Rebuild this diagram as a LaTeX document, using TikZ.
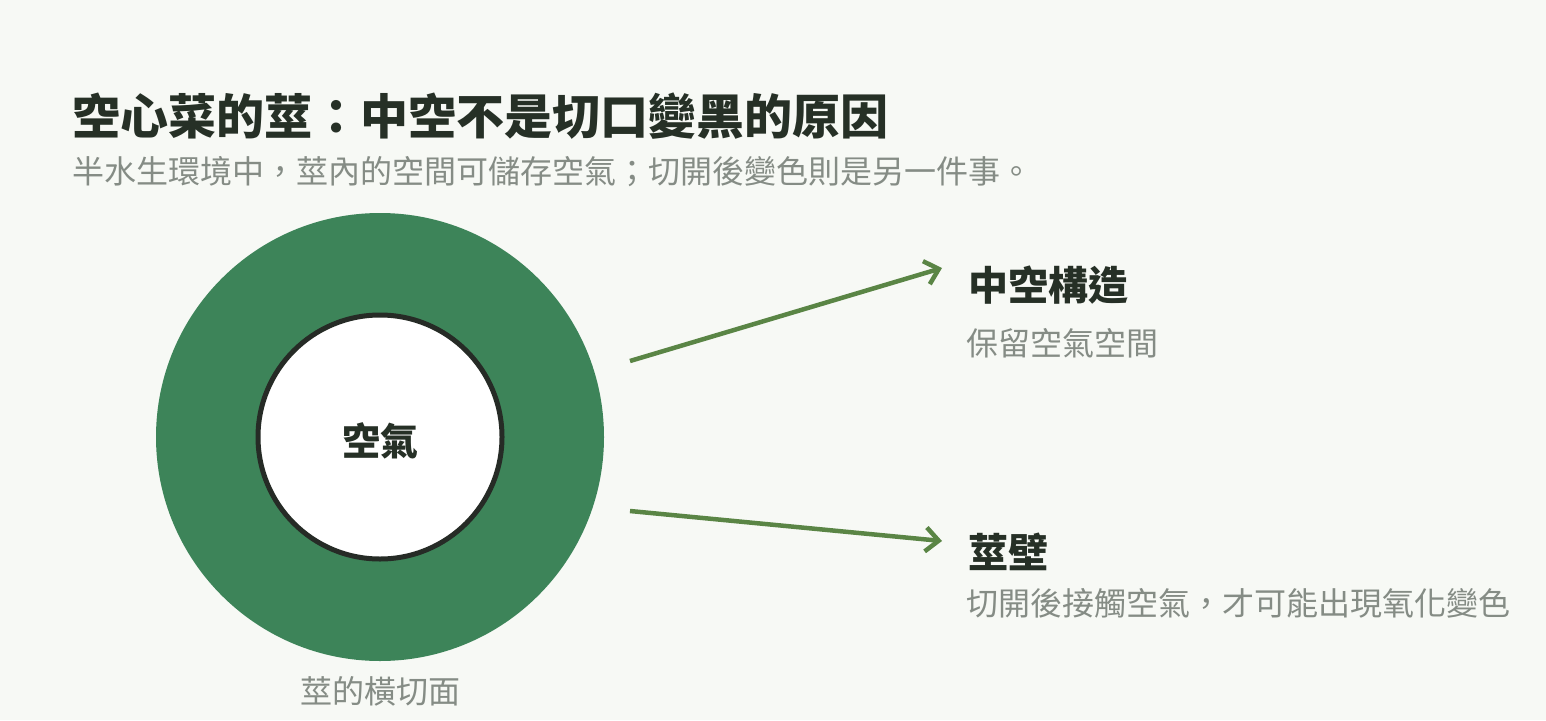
\documentclass[tikz,border=0pt]{standalone}
\usepackage{fontspec}
\setmainfont{Noto Sans CJK TC}
\usetikzlibrary{arrows.meta}
\definecolor{bgc}{HTML}{F7F9F5}
\definecolor{darkt}{HTML}{263026}
\definecolor{grayt}{HTML}{858C85}
\definecolor{stemg}{HTML}{3D8459}
\definecolor{arrowg}{HTML}{5A8545}
\definecolor{ringc}{HTML}{262B26}
\tikzset{
  title/.style={anchor=base west,inner sep=0pt,text=darkt,font=\bfseries\fontsize{48}{56}\selectfont},
  subtitle/.style={anchor=base west,inner sep=0pt,text=grayt,font=\fontsize{32}{40}\selectfont},
  head/.style={anchor=base west,inner sep=0pt,text=darkt,font=\bfseries\fontsize{40}{48}\selectfont},
  note/.style={anchor=base west,inner sep=0pt,text=grayt,font=\fontsize{32}{40}\selectfont},
  connector/.style={draw=arrowg,line width=4.5pt,-{Straight Barb[length=13pt,width=24pt,line width=4.5pt]}},
}
\begin{document}
\begin{tikzpicture}[x=1pt,y=-1pt]
\path[fill=bgc] (0,0) rectangle (1546,720);
\useasboundingbox (0,0) rectangle (1546,720);

\node[title] (title) at (72,134) {空心菜的莖：中空不是切口變黑的原因};
\node[subtitle] (sub) at (72,183) {半水生環境中，莖內的空間可儲存空氣；切開後變色則是另一件事。};

\node[circle,fill=stemg,minimum size=448pt,inner sep=0pt] (stem) at (380,437) {};
\node[circle,fill=white,draw=ringc,line width=5pt,minimum size=244pt,inner sep=0pt] (air) at (380,437) {};
\node[anchor=base,inner sep=0pt,text=darkt,font=\bfseries\fontsize{38}{44}\selectfont] (airlabel) at (380,455) {空氣};
\node[anchor=base,inner sep=0pt,text=grayt,font=\fontsize{32}{40}\selectfont] (caption) at (380,703) {莖的橫切面};

\node[head] (h1) at (968,300) {中空構造};
\node[note] (n1) at (966,355) {保留空氣空間};
\node[head] (h2) at (968,567) {莖壁};
\node[note] (n2) at (966,615) {切開後接觸空氣，才可能出現氧化變色};

\coordinate (s1) at (630,361);
\coordinate (e1) at (942,268);
\coordinate (s2) at (630,511);
\coordinate (e2) at (942,541);
\draw[connector] (s1) -- (e1);
\draw[connector] (s2) -- (e2);
\end{tikzpicture}
\end{document}
